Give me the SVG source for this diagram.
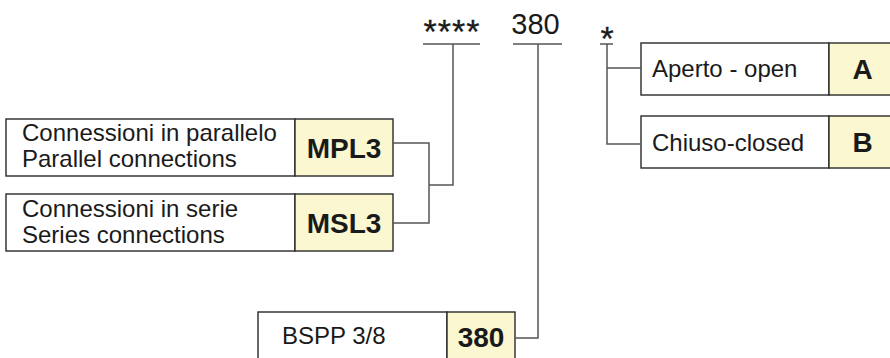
<svg xmlns="http://www.w3.org/2000/svg" width="890" height="358" viewBox="0 0 890 358">
<style>
.box{fill:#ffffff;stroke:#2a2a2a;stroke-width:1.4}
.code{fill:#fbf7d1;stroke:#2a2a2a;stroke-width:1.4}
.t{font-family:"Liberation Sans",Arial,sans-serif;font-size:24px;fill:#1a1a1a}
.b{font-family:"Liberation Sans",Arial,sans-serif;font-size:28px;font-weight:bold;fill:#1a1a1a;text-anchor:middle}
.top{font-family:"Liberation Sans",Arial,sans-serif;fill:#1a1a1a;text-anchor:middle}
.ast{stroke:#1a1a1a;stroke-width:0.35}
.ln{fill:none;stroke:#555;stroke-width:1.5}
</style>
<rect width="890" height="358" fill="#ffffff"/>
<g id="code-header">
<text class="top ast" x="452" y="43" font-size="34" letter-spacing="1">****</text>
<text class="top" x="535.5" y="34" font-size="29">380</text>
<text class="top ast" x="607" y="50" font-size="34">*</text>
</g>
<g id="node-mpl3">
<rect class="box" x="6" y="119" width="289" height="57"/>
<rect class="code" x="295" y="119" width="98" height="57"/>
<text class="t" x="22" y="141">Connessioni in parallelo</text>
<text class="t" x="22" y="167">Parallel connections</text>
<text class="b" x="344" y="157.5">MPL3</text>
</g>
<g id="node-msl3">
<rect class="box" x="6" y="194" width="289" height="57"/>
<rect class="code" x="295" y="194" width="98" height="57"/>
<text class="t" x="22" y="217">Connessioni in serie</text>
<text class="t" x="22" y="243">Series connections</text>
<text class="b" x="344" y="232.5">MSL3</text>
</g>
<g id="node-bspp">
<rect class="box" x="258" y="312" width="189" height="60"/>
<rect class="code" x="447" y="312" width="68" height="60"/>
<text class="t" x="282" y="344">BSPP 3/8</text>
<text class="b" x="481" y="347">380</text>
</g>
<g id="node-a">
<rect class="box" x="641" y="43" width="188" height="52"/>
<rect class="code" x="829" y="43" width="70" height="52"/>
<text class="t" x="652" y="77">Aperto - open</text>
<text class="b" x="862.5" y="79">A</text>
</g>
<g id="node-b">
<rect class="box" x="641" y="116" width="188" height="52"/>
<rect class="code" x="829" y="116" width="70" height="52"/>
<text class="t" x="652" y="151">Chiuso-closed</text>
<text class="b" x="862.5" y="152">B</text>
</g>
<g id="connectors">
<line class="ln" x1="423" y1="44" x2="480" y2="44"/>
<line class="ln" x1="513" y1="44" x2="562" y2="44"/>
<line class="ln" x1="600" y1="44" x2="613" y2="44"/>
<polyline class="ln" points="393,143 429,143 429,223 393,223"/>
<polyline class="ln" points="429,185 453,185 453,44"/>
<polyline class="ln" points="538,44 538,338 515,338"/>
<polyline class="ln" points="607,44 607,144 641,144"/>
<line class="ln" x1="607" y1="68" x2="641" y2="68"/>
</g>
</svg>
